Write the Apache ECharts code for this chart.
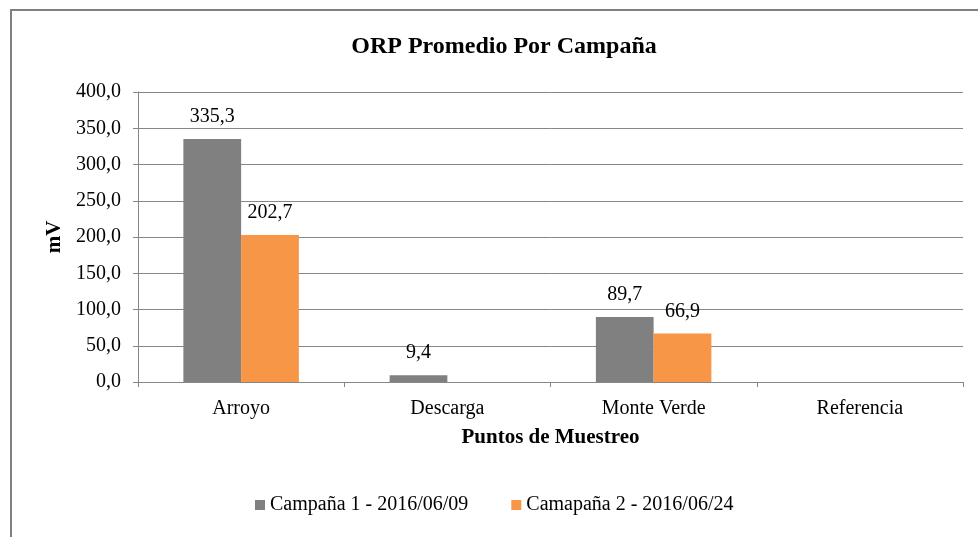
<!DOCTYPE html>
<html>
<head>
<meta charset="utf-8">
<style type="text/css">
html, body { margin: 0; padding: 0; background: #fff; }
</style>
</head>
<body>
<div style="width: 978px;height: 537px;" id="chart"></div>
<script src="https://cdn.jsdelivr.net/npm/echarts@6/dist/echarts.min.js"></script>
<script>

let categories = ['Arroyo', 'Descarga', 'Monte Verde', 'Referencia'];
let campana1 = [335.3, 9.4, 89.7, null];
let campana2 = [202.7, null, 66.9, null];
let seriesNames = ['Campaña 1 - 2016/06/09', 'Camapaña 2 - 2016/06/24'];
let yTicks = [0, 50, 100, 150, 200, 250, 300, 350, 400];

let font = 'Liberation Serif';
let fmt = v => Number(v).toFixed(1).replace('.', ',');

let chart = echarts.init(document.getElementById('chart'));

let barLabel = {
    show: true,
    position: 'top',
    distance: 12,
    color: '#000',
    fontFamily: font,
    fontSize: 20,
    formatter: p => fmt(p.value)
};

let option = {
    animation: false,
    color: ['#808080', '#f79646'],
    title: {
        text: 'ORP Promedio Por Campaña',
        left: 499,
        textAlign: 'center',
        top: 30,
        textStyle: {
            fontFamily: font,
            fontSize: 24,
            fontWeight: 'bold',
            color: '#000'
        }
    },
    graphic: [{
        type: 'rect',
        shape: {x: 11, y: 10, width: 1000, height: 600},
        style: {fill: null, stroke: '#808080', lineWidth: 2},
        silent: true
    }],
    legend: {
        bottom: 17,
        left: 250,
        itemWidth: 10,
        itemHeight: 10,
        itemGap: 43,
        icon: 'rect',
        textStyle: {fontFamily: font, fontSize: 20, color: '#000'},
        data: seriesNames
    },
    grid: {
        left: 138,
        right: 15,
        top: 92,
        bottom: 155
    },
    xAxis: {
        type: 'category',
        data: categories,
        name: 'Puntos de Muestreo',
        nameLocation: 'middle',
        nameGap: 45,
        nameTextStyle: {fontFamily: font, fontSize: 21, fontWeight: 'bold', color: '#000'},
        axisLine: {lineStyle: {color: '#868686', width: 1}},
        axisTick: {show: true, length: 5, interval: 0, lineStyle: {color: '#868686'}},
        axisLabel: {fontFamily: font, fontSize: 20, color: '#000', margin: 17}
    },
    yAxis: {
        type: 'value',
        min: yTicks[0],
        max: yTicks[yTicks.length - 1],
        interval: 50,
        name: 'mV',
        nameLocation: 'middle',
        nameGap: 71,
        nameRotate: 90,
        nameTextStyle: {fontFamily: font, fontSize: 21, fontWeight: 'bold', color: '#000'},
        axisLine: {show: true, lineStyle: {color: '#868686', width: 1}},
        axisTick: {show: true, length: 5, lineStyle: {color: '#868686'}},
        axisLabel: {fontFamily: font, fontSize: 20, color: '#000', margin: 17, formatter: v => fmt(v)},
        splitLine: {lineStyle: {color: '#868686', width: 1}}
    },
    series: [{
        name: seriesNames[0],
        type: 'bar',
        data: campana1,
        barGap: '0%',
        barCategoryGap: '44%',
        label: barLabel
    }, {
        name: seriesNames[1],
        type: 'bar',
        data: campana2,
        label: barLabel
    }]
};

chart.setOption(option);

</script>
</body>
</html>
